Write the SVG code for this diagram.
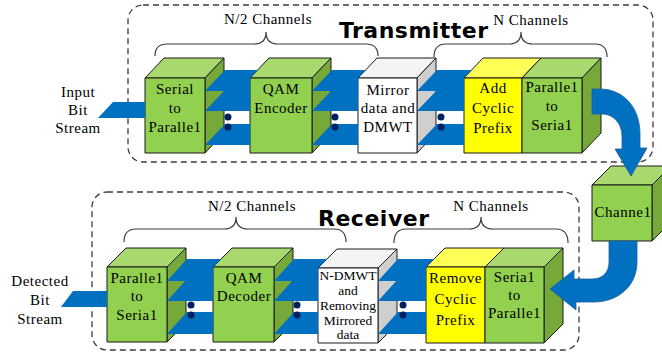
<svg xmlns="http://www.w3.org/2000/svg" width="662" height="354" viewBox="0 0 662 354">
  <style>
    .box { fill: none; stroke: #3c3c3c; stroke-width: 1.3; stroke-dasharray: 6 4; }
    .brace { fill: none; stroke: #3c3c3c; stroke-width: 1.2; }
    .face { stroke: #1a1a1a; stroke-width: 1; stroke-linejoin: round; }
    .gf { fill: #92D050; } .gt { fill: #A8D86E; } .gs { fill: #76A83A; }
    .yf { fill: #FFFF00; } .yt { fill: #FFFF57; }
    .wf { fill: #FFFFFF; } .wt { fill: #F4F4F4; } .ws { fill: #CFCFCF; }
    .t { font-family: 'Liberation Serif', 'DejaVu Serif', serif; font-size: 15px; letter-spacing: 0.5px; text-anchor: middle; fill: #000; }
    .s { font-family: 'Liberation Serif', 'DejaVu Serif', serif; font-size: 13.5px; text-anchor: middle; fill: #000; }
    .ttl { font-family: 'DejaVu Sans', sans-serif; font-weight: bold; font-size: 22px; fill: #000; }
    .band { fill: #0070C0; }
    .dot { fill: #002060; }
    .arrow { fill: #0070C0; stroke: #1f5f99; stroke-width: 0.8; stroke-linejoin: round; }
  </style>

  <!-- section frames -->
  <rect class="box" x="128" y="5" width="525" height="157" rx="15"/>
  <rect class="box" x="92" y="192" width="487" height="158" rx="15"/>

  <!-- titles and channel braces -->
  <g id="labels">
    <text class="ttl" x="339" y="38" textLength="149">Transmitter</text>
    <text class="ttl" x="318" y="226" textLength="111">Receiver</text>
    <text class="t" x="268" y="24">N/2 Channels</text>
    <text class="t" x="531" y="25">N Channels</text>
    <text class="t" x="252" y="211">N/2 Channels</text>
    <text class="t" x="491" y="211">N Channels</text>
    <path class="brace" d="M155,56 Q155,44 167,44 L254,44 Q266,44 266,32 Q266,44 278,44 L366,44 Q378,44 378,56"/>
    <path class="brace" d="M434,57 Q434,44 446,44 L509,44 Q521,44 521,32 Q521,44 533,44 L595,44 Q607,44 607,57"/>
    <path class="brace" d="M124,242 Q124,229 136,229 L224,229 Q236,229 236,217 Q236,229 248,229 L334,229 Q346,229 346,242"/>
    <path class="brace" d="M394,243 Q394,229 406,229 L469,229 Q481,229 481,217 Q481,229 493,229 L556,229 Q568,229 568,243"/>
    <text class="t" x="78" y="97">Input</text>
    <text class="t" x="78" y="115">Bit</text>
    <text class="t" x="78" y="133">Stream</text>
    <text class="t" x="40" y="286">Detected</text>
    <text class="t" x="40" y="305">Bit</text>
    <text class="t" x="40" y="324">Stream</text>
  </g>

  <!-- transmitter blocks -->
  <g id="tx-serial-to-parallel">
    <polygon class="face gt" points="145,78 205,78 224,58 164,58"/>
    <polygon class="face gs" points="205,78 224,58 224,133 205,153"/>
    <rect class="face gf" x="145" y="78" width="60" height="75"/>
    <text class="t" x="175" y="94">Serial</text>
    <text class="t" x="175" y="113">to</text>
    <text class="t" x="175" y="132">Paralle1</text>
  </g>
  <g id="tx-qam-encoder">
    <polygon class="face gt" points="250,78 312,78 331,58 269,58"/>
    <polygon class="face gs" points="312,78 331,58 331,133 312,153"/>
    <rect class="face gf" x="250" y="78" width="62" height="75"/>
    <text class="t" x="281" y="94">QAM</text>
    <text class="t" x="281" y="113">Encoder</text>
  </g>
  <g id="tx-mirror-dmwt">
    <polygon class="face wt" points="358,78 417,78 436,58 377,58"/>
    <polygon class="face ws" points="417,78 436,58 436,133 417,153"/>
    <rect class="face wf" x="358" y="78" width="59" height="75"/>
    <text class="t" x="388" y="95">Mirror</text>
    <text class="t" x="388" y="113">data and</text>
    <text class="t" x="388" y="132">DMWT</text>
  </g>
  <g id="tx-add-cyclic-prefix">
    <polygon class="face yt" points="464,78 522,78 541,58 483,58"/>
    <rect class="face yf" x="464" y="78" width="58" height="75"/>
    <text class="t" x="493" y="93">Add</text>
    <text class="t" x="493" y="113">Cyclic</text>
    <text class="t" x="493" y="133">Prefix</text>
  </g>
  <g id="tx-parallel-to-serial">
    <polygon class="face gt" points="522,78 582,78 601,58 541,58"/>
    <polygon class="face gs" points="582,78 601,58 601,133 582,153"/>
    <rect class="face gf" x="522" y="78" width="60" height="75"/>
    <text class="t" x="552" y="92">Paralle1</text>
    <text class="t" x="552" y="111">to</text>
    <text class="t" x="552" y="130">Seria1</text>
  </g>

  <!-- channel -->
  <g id="channel">
    <polygon class="face gt" points="592,185 652,185 671,166 611,166"/>
    <polygon class="face gs" points="652,185 671,166 671,222 652,241"/>
    <rect class="face gf" x="592" y="185" width="60" height="56"/>
    <text class="t" x="623" y="217">Channe1</text>
  </g>

  <!-- receiver blocks -->
  <g id="rx-parallel-to-serial">
    <polygon class="face gt" points="107,267 167,267 186,248 126,248"/>
    <polygon class="face gs" points="167,267 186,248 186,323 167,342"/>
    <rect class="face gf" x="107" y="267" width="60" height="75"/>
    <text class="t" x="137" y="283">Paralle1</text>
    <text class="t" x="137" y="301">to</text>
    <text class="t" x="137" y="320">Seria1</text>
  </g>
  <g id="rx-qam-decoder">
    <polygon class="face gt" points="213,267 274,267 293,248 232,248"/>
    <polygon class="face gs" points="274,267 293,248 293,323 274,342"/>
    <rect class="face gf" x="213" y="267" width="61" height="75"/>
    <text class="t" x="244" y="283">QAM</text>
    <text class="t" x="244" y="301">Decoder</text>
  </g>
  <g id="rx-ndmwt">
    <polygon class="face wt" points="318,268 378,268 397,249 337,249"/>
    <polygon class="face ws" points="378,268 397,249 397,324 378,343"/>
    <rect class="face wf" x="318" y="268" width="60" height="75"/>
    <text class="s" x="348" y="280">N-DMWT</text>
    <text class="s" x="348" y="295">and</text>
    <text class="s" x="348" y="310">Removing</text>
    <text class="s" x="348" y="325">Mirrored</text>
    <text class="s" x="348" y="339">data</text>
  </g>
  <g id="rx-remove-cyclic-prefix">
    <polygon class="face yt" points="426,267 485,267 504,248 445,248"/>
    <rect class="face yf" x="426" y="267" width="59" height="76"/>
    <text class="t" x="455.5" y="283">Remove</text>
    <text class="t" x="455.5" y="304">Cyclic</text>
    <text class="t" x="455.5" y="325">Prefix</text>
  </g>
  <g id="rx-serial-to-parallel">
    <polygon class="face gt" points="485,267 544,267 563,248 504,248"/>
    <polygon class="face gs" points="544,267 563,248 563,324 544,343"/>
    <rect class="face gf" x="485" y="267" width="59" height="76"/>
    <text class="t" x="514.5" y="282">Seria1</text>
    <text class="t" x="514.5" y="300">to</text>
    <text class="t" x="514.5" y="318">Paralle1</text>
  </g>

  <!-- data streams, parallel channels and links -->
  <g id="connectors">
    <!-- input / output bit streams -->
    <polygon class="band" points="98,118 145,118 145,102 113,102"/>
    <polygon class="band" points="61,307 107,307 107,291 73,291"/>

    <!-- transmitter channel planes -->
    <polygon class="band" points="205,91 250,91 250,78 257.6,70 225,70"/>
    <polygon class="band" points="205,111 250,111 250,90 225,90"/>
    <polygon class="band" points="205,145 250,145 250,124 225,124"/>
    <polygon class="band" points="312,91 358,91 358,78 365.6,70 332,70"/>
    <polygon class="band" points="312,111 358,111 358,90 332,90"/>
    <polygon class="band" points="312,145 358,145 358,124 332,124"/>
    <polygon class="band" points="417,91 464,91 464,78 471.6,70 437,70"/>
    <polygon class="band" points="417,111 464,111 464,90 437,90"/>
    <polygon class="band" points="417,145 464,145 464,124 437,124"/>

    <!-- receiver channel planes -->
    <polygon class="band" points="167,281 213,281 213,267 221,259 187,259"/>
    <polygon class="band" points="167,301 213,301 213,279 187,279"/>
    <polygon class="band" points="167,334 213,334 213,312 187,312"/>
    <polygon class="band" points="274,281 318,281 318,268 327,259 294,259"/>
    <polygon class="band" points="274,301 318,301 318,279 294,279"/>
    <polygon class="band" points="274,334 318,334 318,312 294,312"/>
    <polygon class="band" points="378,281 426,281 426,267 434,259 398,259"/>
    <polygon class="band" points="378,301 426,301 426,279 398,279"/>
    <polygon class="band" points="378,334 426,334 426,312 398,312"/>

    <!-- ellipsis dots between channel groups -->
    <circle class="dot" cx="228" cy="117" r="3.5"/><circle class="dot" cx="228" cy="127" r="3.5"/>
    <circle class="dot" cx="335" cy="117" r="3.5"/><circle class="dot" cx="335" cy="127" r="3.5"/>
    <circle class="dot" cx="441" cy="117" r="3.5"/><circle class="dot" cx="441" cy="127" r="3.5"/>
    <circle class="dot" cx="191" cy="305" r="3.5"/><circle class="dot" cx="191" cy="315" r="3.5"/>
    <circle class="dot" cx="297" cy="305" r="3.5"/><circle class="dot" cx="297" cy="315" r="3.5"/>
    <circle class="dot" cx="403" cy="305" r="3.5"/><circle class="dot" cx="403" cy="315" r="3.5"/>

    <!-- transmitter to channel -->
    <path class="arrow" d="M592,89 L600,89 C624,89 640,108 640,134 L640,148 L647,148 L631,176 L615,149 L622,149 L622,136 C622,123 613,114 602,114 L592,114 Z"/>
    <!-- channel to receiver -->
    <path class="arrow" d="M609,241 L637,241 L637,262 C637,286 618,302 594,302 L576,302 L576,310 L550,289 L574,270 L574,279 L592,279 C603,279 609,272 609,262 Z"/>
  </g>
</svg>
